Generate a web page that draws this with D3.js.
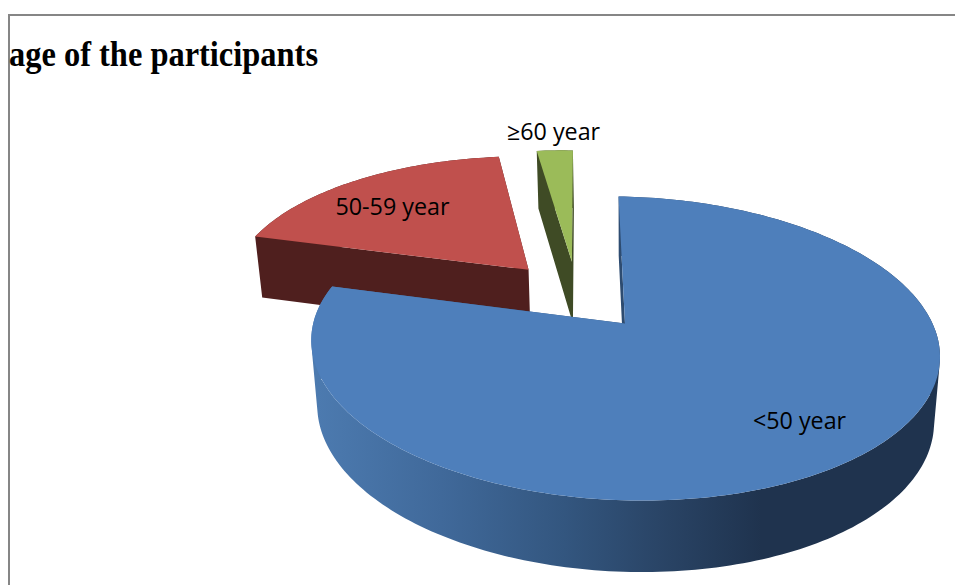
<!DOCTYPE html>
<html>
<head>
<meta charset="utf-8">
<script src="https://cdn.jsdelivr.net/npm/d3@7"></script>
<style>html,body{margin:0;padding:0;background:#fff;overflow:hidden}svg{display:block}</style>
</head>
<body>
<div id="chart"></div>
<script>
const categories = ["<50 year", "50-59 year", "≥60 year"];
const seriesValues = [78.7, 19.0, 2.3];
const topColors = ["#4e7fbb", "#c0504d", "#9bbb59"];
const sideColors = ["#1f334e", "#4f1f1e", "#3f4b25"];
const titleText = "age of the participants";

// Layout (separate from data)
const explode = [[0, 0], [-0.321, 0.375], [-0.173, 0.442]];
const labelPos = [[799.5, 429], [392.5, 215], [553.5, 140]];
const W = 955, H = 585;
const P = {ox: 625, oy: 323.5, R: 310, a: 147.9, b: 0.1645, c: 0.002, s: 7.5, t: -4.5, depth: 59.5};

const svg = d3.select("#chart").append("svg").attr("width", W).attr("height", H);
const defs = svg.append("defs");
const grad = defs.append("linearGradient").attr("id", "blueSide")
  .attr("gradientUnits", "userSpaceOnUse").attr("x1", 318).attr("x2", 934).attr("y1", 0).attr("y2", 0);
[[0, "#4c7aaf"], [0.2, "#40699a"], [0.4, "#33567f"], [0.55, "#2a4567"], [0.72, "#1f334e"], [1, "#1f334e"]]
  .forEach(([o, c]) => grad.append("stop").attr("offset", o).attr("stop-color", c));

function top3(u, v) {
  const w = 1 + P.b * v + P.c * u;
  return [P.ox + (P.R * u - P.s * v) / w, P.oy - (P.a * v + P.t * u) / w];
}
function lower([x, y]) {
  return [626 + (x - 626) * 0.981, y + P.depth + (y - 200) * 0.04];
}

const pie = d3.pie().sort(null).value(d => d);
const arcs = pie(seriesValues);
const lineGen = d3.line();

function outline(d, i) {
  const [du, dv] = explode[i];
  const pts = [top3(du, dv)];
  const n = Math.max(4, Math.ceil((d.endAngle - d.startAngle) / 0.02));
  d3.range(n + 1).forEach(k => {
    const th = d.startAngle + (d.endAngle - d.startAngle) * k / n;
    pts.push(top3(du + Math.sin(th), dv + Math.cos(th)));
  });
  return pts;
}

const drawOrder = [1, 2, 0];
drawOrder.forEach(i => {
  const pts = outline(arcs[i], i);
  const quads = pts.map((p, k) => {
    const q = pts[(k + 1) % pts.length];
    let poly = [p, q, lower(q), lower(p)];
    if (d3.polygonArea(poly) < 0) poly = poly.reverse();
    return lineGen(poly) + "Z";
  }).join("");
  svg.append("path").attr("d", quads).attr("fill-rule", "nonzero")
    .attr("fill", i === 0 ? "url(#blueSide)" : sideColors[i]);
  svg.append("path").attr("d", lineGen(pts) + "Z").attr("fill", topColors[i]);
});

// Frame
svg.append("path").attr("d", `M9,${H}V15H${W}`).attr("fill", "none").attr("stroke", "#868686").attr("stroke-width", 2);

svg.append("text").attr("x", 9).attr("y", 66).text(titleText)
  .attr("font-family", "'Liberation Serif'").attr("font-weight", "bold").attr("font-size", 36)
  .attr("textLength", 309).attr("lengthAdjust", "spacingAndGlyphs").attr("fill", "#000");

svg.selectAll("text.lbl").data(categories).join("text").attr("class", "lbl")
  .attr("x", (d, i) => labelPos[i][0]).attr("y", (d, i) => labelPos[i][1])
  .attr("text-anchor", "middle").attr("font-family", "'Open Sans'").attr("font-size", 23.3).attr("fill", "#000")
  .text(d => d);
</script>
</body>
</html>
